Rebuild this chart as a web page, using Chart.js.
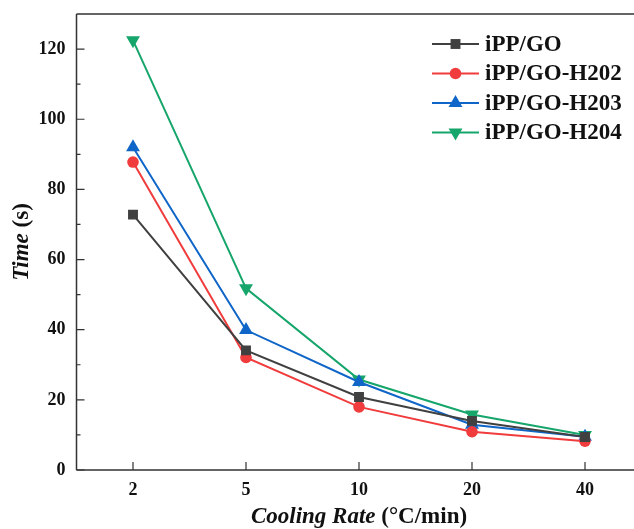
<!DOCTYPE html>
<html>
<head>
<meta charset="utf-8">
<script src="https://cdn.jsdelivr.net/npm/chart.js@4"></script>
<style>
html,body{margin:0;padding:0;background:#fff;overflow:hidden;}
#wrap{width:660px;height:529px;}
</style>
</head>
<body>
<div id="wrap"><canvas id="c" width="660" height="529"></canvas></div>
<script>
const categories = ['2', '5', '10', '20', '40'];
const seriesNames = ['iPP/GO', 'iPP/GO-H202', 'iPP/GO-H203', 'iPP/GO-H204'];
const goValues   = [72.8, 34.1, 20.8, 14.0, 9.4];
const h202Values = [87.8, 32.1, 18.0, 10.9, 8.2];
const h203Values = [92.0, 39.9, 25.1, 12.9, 9.5];
const h204Values = [122.5, 51.8, 25.8, 15.8, 10.0];
const yTickValues = [0, 20, 40, 60, 80, 100, 120];
const yMinorValues = [10, 30, 50, 70, 90, 110];

const colors = ['#404040', '#f03c3c', '#0f66c8', '#16a56a'];
const styles = ['rect', 'circle', 'triangle', 'triangle'];
const rotations = [0, 0, 0, 180];
const radii = [7, 5.8, 8, 8];
const allValues = [goValues, h202Values, h203Values, h204Values];

const FONT = '"Liberation Serif", "Times New Roman", serif';
const AXIS = '#333333';

const decor = {
  id: 'decor',
  afterDraw(chart) {
    const ctx = chart.ctx;
    const a = chart.chartArea;
    const xs = chart.scales.x, ys = chart.scales.y;
    ctx.save();
    ctx.strokeStyle = AXIS;
    ctx.lineWidth = 1.5;
    ctx.beginPath();
    ctx.moveTo(a.left, a.top); ctx.lineTo(a.right + 20, a.top);
    ctx.moveTo(a.left, a.top); ctx.lineTo(a.left, a.bottom);
    ctx.moveTo(a.left, a.bottom); ctx.lineTo(a.right + 20, a.bottom);
    ctx.stroke();
    ctx.lineWidth = 1.2;
    ctx.beginPath();
    yTickValues.forEach(v => { const p = ys.getPixelForValue(v); ctx.moveTo(a.left, p); ctx.lineTo(a.left + 8, p); });
    yMinorValues.forEach(v => { const p = ys.getPixelForValue(v); ctx.moveTo(a.left, p); ctx.lineTo(a.left + 4, p); });
    categories.forEach((c, i) => { const p = xs.getPixelForValue(i); ctx.moveTo(p, a.bottom); ctx.lineTo(p, a.bottom - 8); });
    ctx.stroke();

    // axis titles (mixed italic / upright)
    ctx.fillStyle = '#111';
    ctx.textBaseline = 'middle';
    const fIt = 'italic bold 23px ' + FONT;
    const fUp = 'bold 23px ' + FONT;
    const t1 = 'Cooling Rate', t2 = ' (°C/min)';
    ctx.font = fIt; const w1 = ctx.measureText(t1).width;
    ctx.font = fUp; const w2 = ctx.measureText(t2).width;
    const cx = (a.left + a.right) / 2;
    let x0 = cx - (w1 + w2) / 2;
    const ty = 517;
    ctx.textAlign = 'left';
    ctx.font = fIt; ctx.fillText(t1, x0, ty);
    ctx.font = fUp; ctx.fillText(t2, x0 + w1, ty);
    const s1 = 'Time', s2 = ' (s)';
    ctx.font = fIt; const v1 = ctx.measureText(s1).width;
    ctx.font = fUp; const v2 = ctx.measureText(s2).width;
    ctx.translate(22, (a.top + a.bottom) / 2);
    ctx.rotate(-Math.PI / 2);
    let y0 = -(v1 + v2) / 2;
    ctx.font = fIt; ctx.fillText(s1, y0, 0);
    ctx.font = fUp; ctx.fillText(s2, y0 + v1, 0);
    ctx.setTransform(1, 0, 0, 1, 0, 0);

    // legend
    const lx0 = 432, lx1 = 479, tx = 485;
    const rowsY = [44, 73.5, 103, 132.5];
    chart.data.datasets.forEach((ds, i) => {
      const yy = rowsY[i];
      ctx.strokeStyle = ds.borderColor;
      ctx.lineWidth = 2.2;
      ctx.beginPath(); ctx.moveTo(lx0, yy); ctx.lineTo(lx1, yy); ctx.stroke();
      ctx.fillStyle = ds.backgroundColor;
      Chart.helpers.drawPoint(ctx, {pointStyle: ds.pointStyle, radius: ds.pointRadius, rotation: ds.pointRotation, borderWidth: 0}, (lx0 + lx1) / 2, yy);
      ctx.fillStyle = '#111';
      ctx.font = 'bold 23px ' + FONT;
      ctx.textAlign = 'left';
      ctx.textBaseline = 'middle';
      ctx.fillText(ds.label, tx, yy + 1);
    });
    ctx.restore();
  }
};

const datasets = seriesNames.map((name, i) => ({
  label: name,
  data: allValues[i],
  borderColor: colors[i],
  backgroundColor: colors[i],
  borderWidth: 2,
  pointStyle: styles[i],
  pointRotation: rotations[i],
  pointRadius: radii[i],
  pointBorderWidth: 0,
  pointBackgroundColor: colors[i],
  tension: 0,
  fill: false
}));

new Chart(document.getElementById('c'), {
  type: 'line',
  data: { labels: categories, datasets: datasets },
  options: {
    responsive: false,
    animation: false,
    devicePixelRatio: 1,
    layout: { padding: { top: 14, right: 18.5, left: 0, bottom: 0 } },
    plugins: { legend: { display: false }, tooltip: { enabled: false } },
    scales: {
      x: {
        type: 'category',
        offset: true,
        grid: { display: false, drawTicks: false },
        border: { display: false },
        ticks: { color: '#111', font: { family: FONT, size: 18, weight: 'bold' }, padding: 10, maxRotation: 0 },
        afterFit(s) { s.height = 59; s.paddingLeft = 0; s.paddingRight = 0; }
      },
      y: {
        min: 0, max: 130,
        grid: { display: false, drawTicks: false },
        border: { display: false },
        ticks: { stepSize: 20, color: '#111', font: { family: FONT, size: 18, weight: 'bold' }, padding: 11 },
        afterBuildTicks(s) { s.ticks = yTickValues.map(v => ({ value: v })); },
        afterFit(s) { s.width = 76.5; s.paddingTop = 0; s.paddingBottom = 0; }
      }
    }
  },
  plugins: [decor]
});
</script>
</body>
</html>
